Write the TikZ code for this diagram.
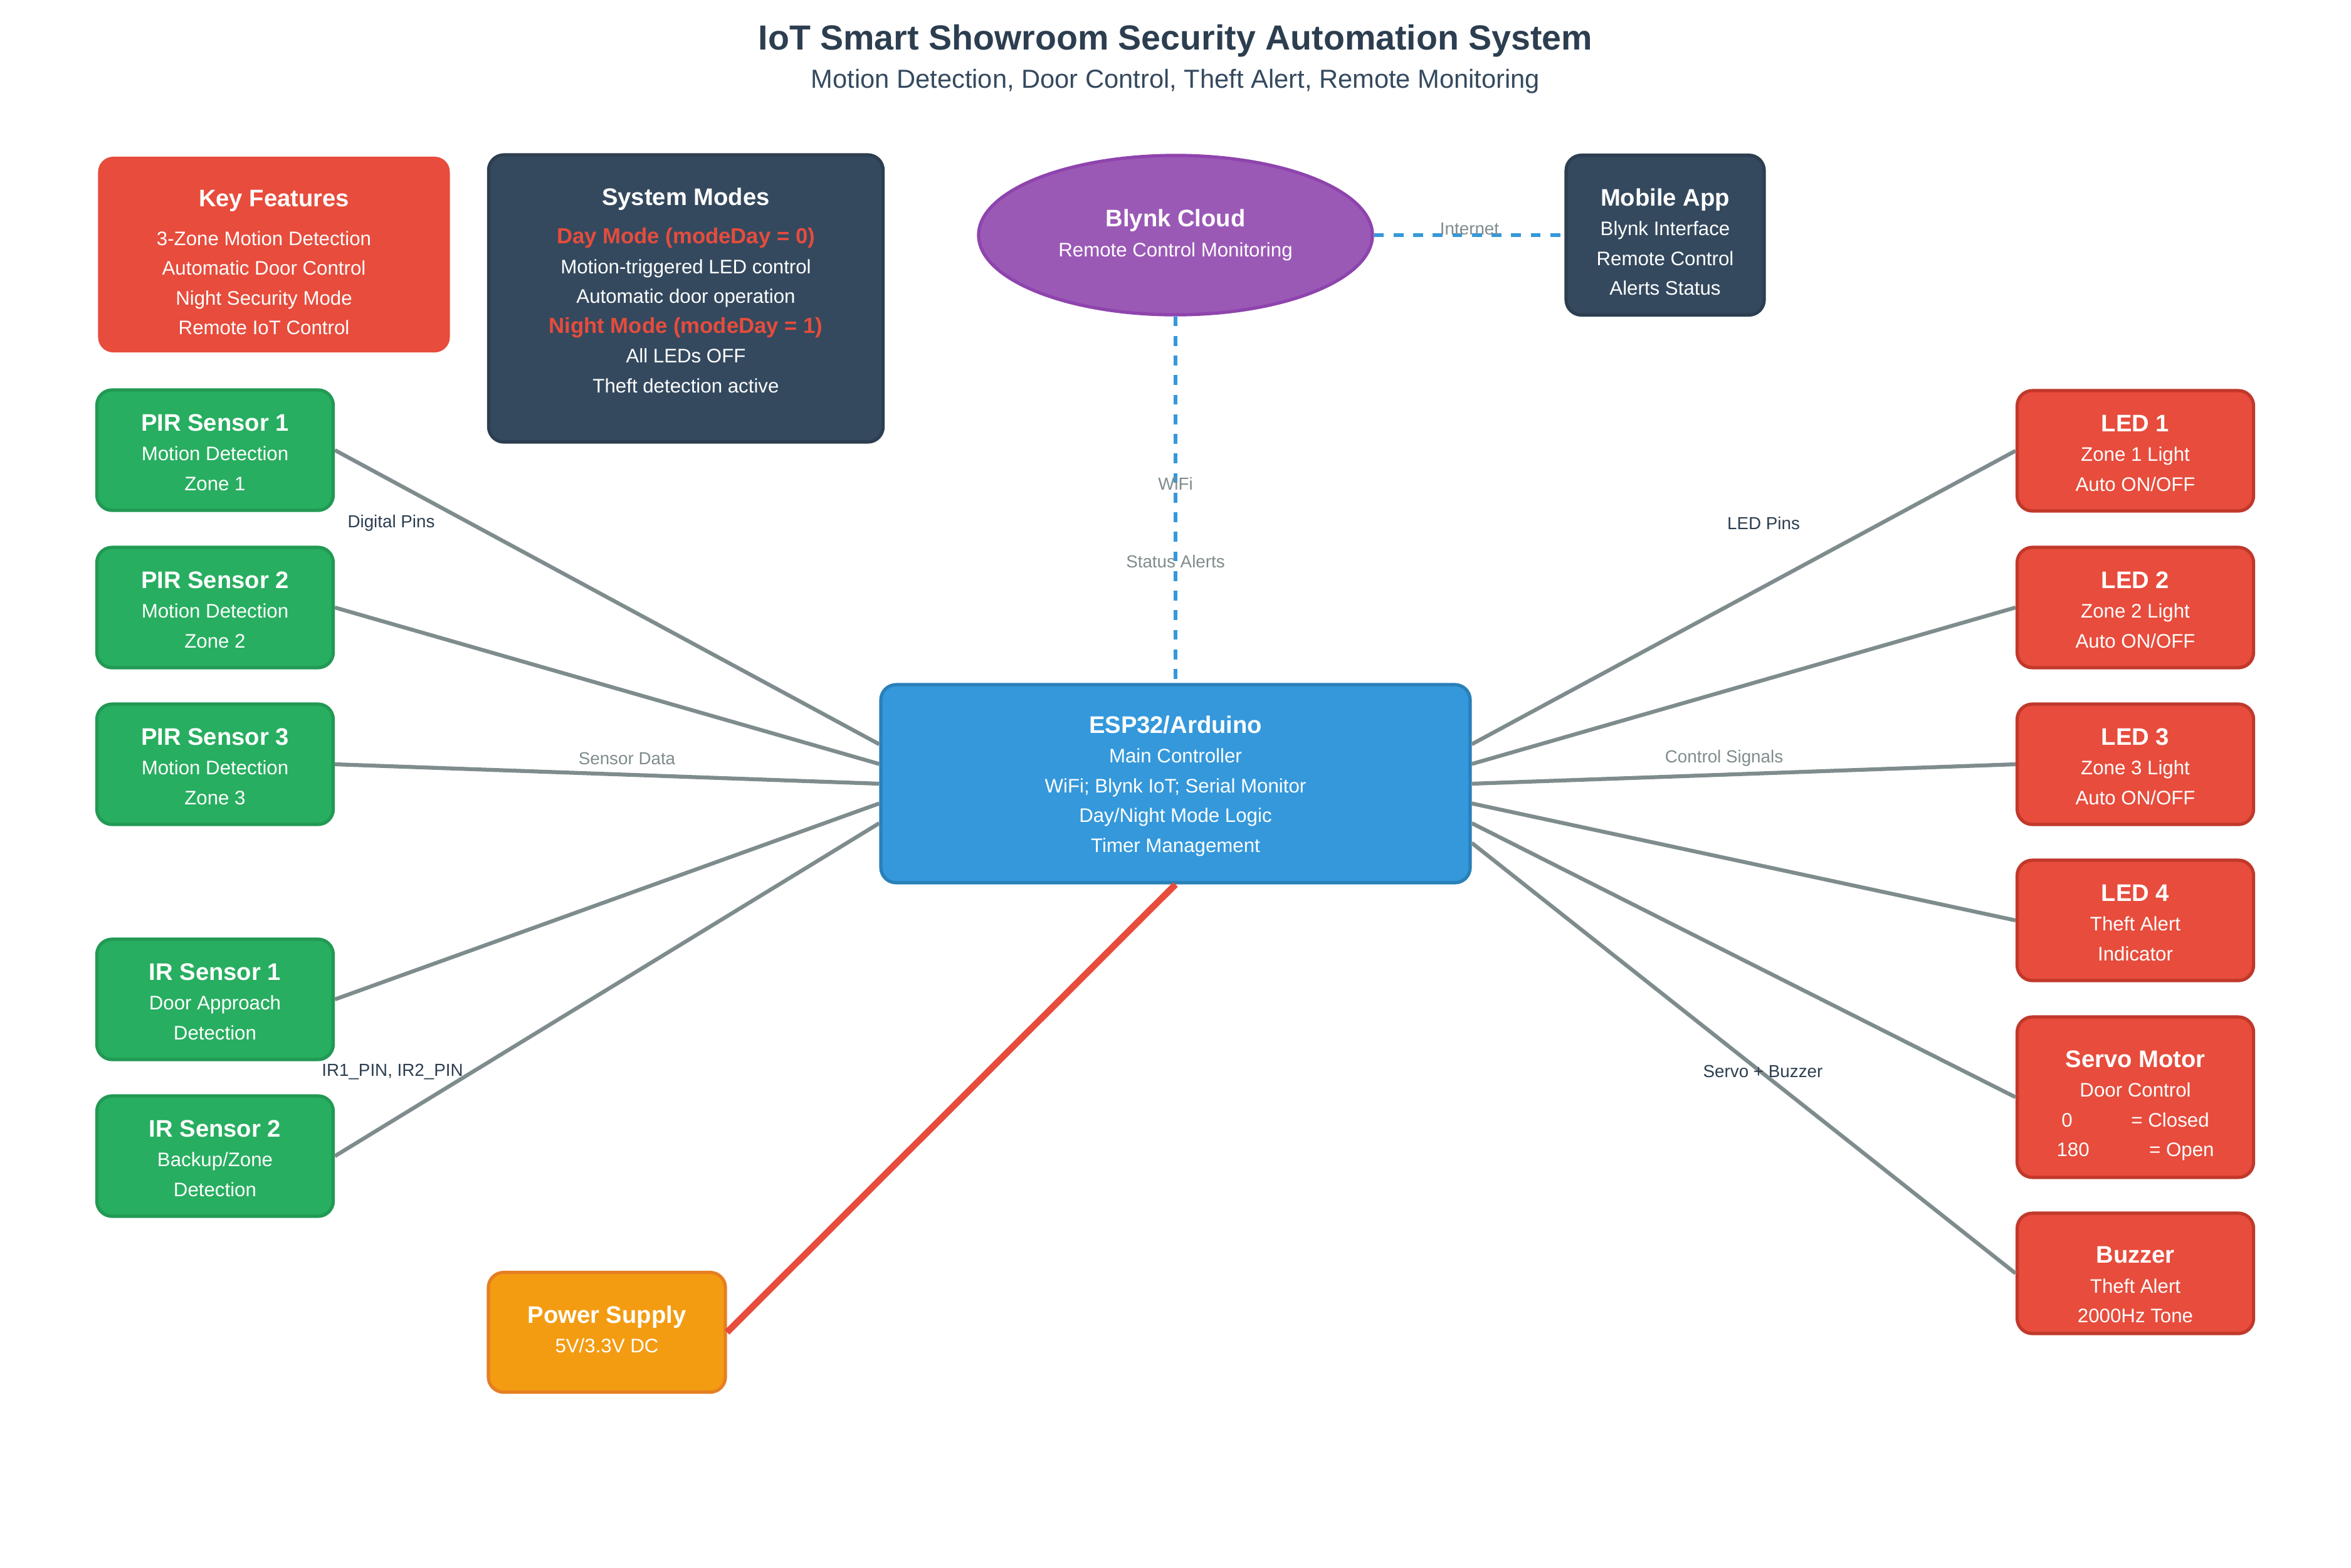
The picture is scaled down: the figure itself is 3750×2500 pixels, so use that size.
\documentclass[tikz,border=0pt]{standalone}
\usepackage{fontspec}
\setmainfont{Liberation Sans}
\usepackage{xcolor}
\usepackage{tikz}
\usetikzlibrary{shapes}
\definecolor{titledark}{HTML}{2C3E50}
\definecolor{subdark}{HTML}{34495E}
\definecolor{sgreen}{HTML}{27AE60}
\definecolor{sgreenrim}{HTML}{229954}
\definecolor{ared}{HTML}{E74C3C}
\definecolor{aredrim}{HTML}{C0392B}
\definecolor{cblue}{HTML}{3498DB}
\definecolor{cbluerim}{HTML}{2980B9}
\definecolor{cpurple}{HTML}{9B59B6}
\definecolor{cpurplerim}{HTML}{8E44AD}
\definecolor{porange}{HTML}{F39C12}
\definecolor{porangerim}{HTML}{E67E22}
\definecolor{wiregray}{HTML}{7F8C8D}
\newcommand{\btitle}[2][9.6pt]{{\rule{0pt}{#1}\fontsize{11}{13.68}\selectfont\bfseries #2}}
\newcommand{\mtitle}[1]{{\fontsize{10}{13.68}\selectfont\bfseries\color{ared}#1}}
\newcommand{\padbot}[1]{\rule[-#1]{0pt}{0pt}}
\newcommand{\kf}[1]{#1\rule{9.2pt}{0pt}}
\tikzset{
  base box/.style={rectangle,rounded corners=7pt,line width=1.5pt,align=center,
    inner sep=0pt,text=white,font=\fontsize{9}{13.68}\selectfont},
  sensor node/.style={base box,fill=sgreen,draw=sgreenrim,minimum width=108.6pt,minimum height=55.3pt},
  output node/.style={base box,fill=ared,draw=aredrim,minimum width=108.6pt,minimum height=55.3pt},
  info node/.style={base box,fill=subdark,draw=titledark},
  wire/.style={draw=wiregray,line width=1.8pt},
  power wire/.style={draw=ared,line width=3pt},
  net link/.style={draw=cblue,line width=1.8pt,dash pattern=on 4.5pt off 4.5pt},
  pin label/.style={font=\fontsize{8}{9.6}\selectfont,text=titledark},
  link label/.style={font=\fontsize{8}{9.6}\selectfont,text=wiregray}
}
\begin{document}
\begin{tikzpicture}[x=0.288pt,y=-0.288pt]
\useasboundingbox (0,0) rectangle (3750,2500);
% title
\node[anchor=base,font=\fontsize{16}{19}\selectfont\bfseries,text=titledark] (title) at (1875,79)
  {IoT Smart Showroom Security Automation System};
\node[anchor=base,font=\fontsize{12}{14}\selectfont,text=subdark] (subtitle) at (1875,140)
  {Motion Detection, Door Control, Theft Alert, Remote Monitoring};
% info panels
\node[base box,fill=ared,minimum width=161.6pt,minimum height=89.9pt] (keyf) at (437,406)
  {\btitle[15pt]{Key Features}\\[4pt] \kf{3-Zone Motion Detection}\\ \kf{Automatic Door Control}\\
   \kf{Night Security Mode}\\ \kf{Remote IoT Control}};
\node[info node,minimum width=181.2pt,minimum height=131.9pt] (modes) at (1094,476)
  {\btitle[8pt]{System Modes}\\[4pt] \mtitle{Day Mode (modeDay = 0)}\\ Motion-triggered LED control\\
   Automatic door operation\\ \mtitle{Night Mode (modeDay = 1)}\\ All LEDs OFF\\
   Theft detection active\padbot{7.6pt}};
% cloud side
\node[ellipse,line width=1.5pt,fill=cpurple,draw=cpurplerim,text=white,align=center,inner sep=0pt,
  minimum width=180.9pt,minimum height=73.2pt,font=\fontsize{9}{14}\selectfont] (blynk) at (1875,375)
  {\btitle[8pt]{Blynk Cloud}\\ Remote Control Monitoring};
\node[info node,minimum width=91pt,minimum height=73.4pt] (mobile) at (2656,375)
  {\btitle[14.2pt]{Mobile App}\\ Blynk Interface\\ Remote Control\\ Alerts Status};
% controller
\node[base box,fill=cblue,draw=cbluerim,minimum width=270.7pt,minimum height=91pt] (esp) at (1875,1250)
  {\btitle[10pt]{ESP32/Arduino}\\ Main Controller\\ WiFi; Blynk IoT; Serial Monitor\\
   Day/Night Mode Logic\\ Timer Management};
% inputs
\node[sensor node] (pir1) at (343,718) {\btitle{PIR Sensor 1}\\ Motion Detection\\ Zone 1};
\node[sensor node] (pir2) at (343,969) {\btitle{PIR Sensor 2}\\ Motion Detection\\ Zone 2};
\node[sensor node] (pir3) at (343,1219) {\btitle{PIR Sensor 3}\\ Motion Detection\\ Zone 3};
\node[sensor node] (ir1) at (343,1594) {\btitle{IR Sensor 1}\\ Door Approach\\ Detection};
\node[sensor node] (ir2) at (343,1844) {\btitle{IR Sensor 2}\\ Backup/Zone\\ Detection};
% outputs
\node[output node] (led1) at (3406,719) {\btitle{LED 1}\\ Zone 1 Light\\ Auto ON/OFF};
\node[output node] (led2) at (3406,969) {\btitle{LED 2}\\ Zone 2 Light\\ Auto ON/OFF};
\node[output node] (led3) at (3406,1219) {\btitle{LED 3}\\ Zone 3 Light\\ Auto ON/OFF};
\node[output node] (led4) at (3406,1468) {\btitle{LED 4}\\ Theft Alert\\ Indicator};
\node[output node,minimum height=73.7pt] (servo) at (3406,1750)
  {\btitle[15.3pt]{Servo Motor}\\ Door Control\\ 0\hspace{27pt}= Closed\\ 180\hspace{27.5pt}= Open};
\node[output node] (buzzer) at (3406,2031) {\btitle[18.2pt]{Buzzer}\\ Theft Alert\\ 2000Hz Tone};
% power
\node[base box,fill=porange,draw=porangerim,minimum width=108.9pt,minimum height=55pt] (power) at (968,2125)
  {\btitle[8pt]{Power Supply}\\ 5V/3.3V DC\padbot{2.8pt}};
% wiring
\foreach \s/\d in {pir1/2,pir2/1,pir3/0,ir1/-1,ir2/-2}
  \draw[wire] (\s.east) -- ([yshift=\d*9.07pt]esp.west);
\foreach \s/\d in {led1/2,led2/1,led3/0,led4/-1,servo/-2,buzzer/-3}
  \draw[wire] ([yshift=\d*9.07pt]esp.east) -- (\s.west);
\draw[power wire] (power.east) -- (esp.south);
\draw[net link] (blynk.south) -- (esp.north);
\draw[net link] (blynk.east) -- (mobile.west);
% link labels
\node[pin label] (lbl1) at (624,834) {Digital Pins};
\node[link label] (lbl2) at (1000,1210) {Sensor Data};
\node[pin label] (lbl3) at (626,1710) {IR1\_PIN, IR2\_PIN};
\node[pin label] (lbl4) at (2813,835) {LED Pins};
\node[link label] (lbl5) at (2750,1209) {Control Signals};
\node[pin label] (lbl6) at (2812,1709) {Servo + Buzzer};
\node[link label] (lbl7) at (1875,771) {WiFi};
\node[link label] (lbl8) at (1875,896) {Status Alerts};
\node[link label] (lbl9) at (2344,365) {Internet};
\end{tikzpicture}
\end{document}
